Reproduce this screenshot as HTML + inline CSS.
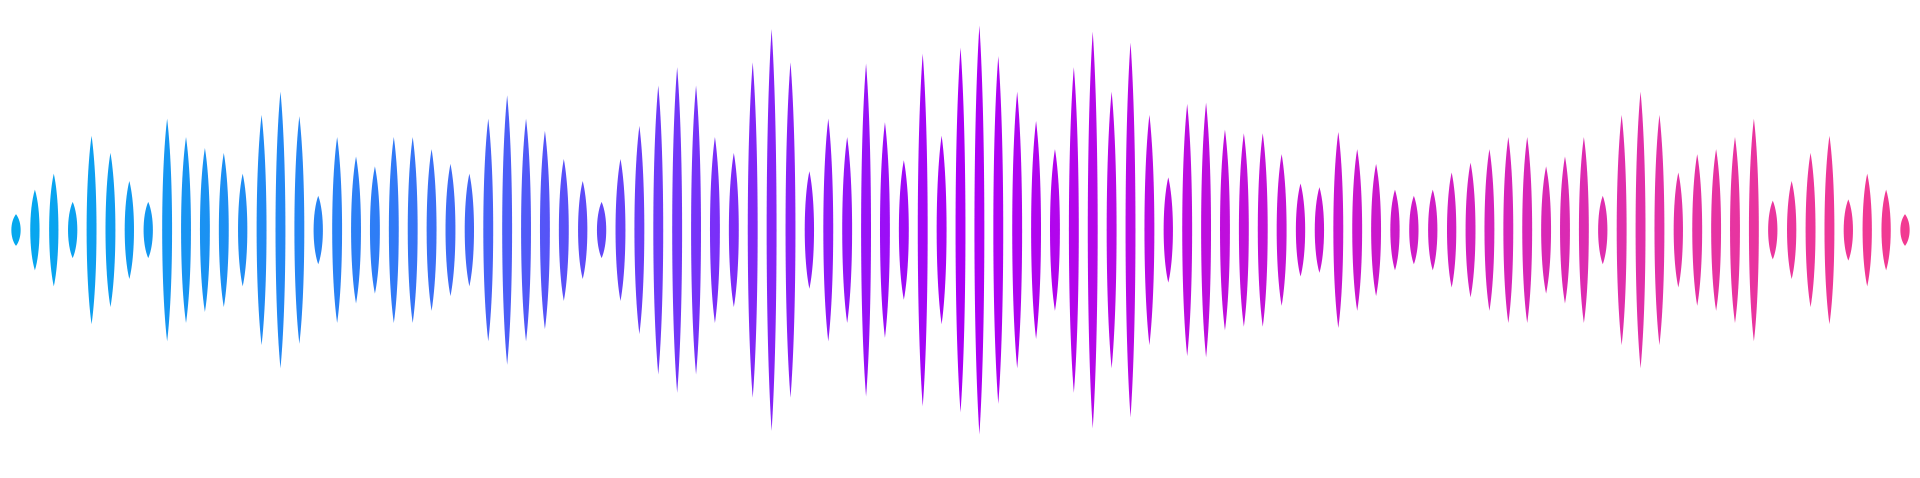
<!DOCTYPE html>
<html>
<head>
<meta charset="utf-8">
<style>
  html,body{margin:0;padding:0;background:#ffffff;}
  svg{display:block;}
</style>
</head>
<body>
<svg id="wave" width="1920" height="478" viewBox="0 0 1920 478" xmlns="http://www.w3.org/2000/svg">
  <defs>
    <linearGradient id="grad" gradientUnits="userSpaceOnUse" x1="0" y1="0" x2="1920" y2="0">
      <stop offset="0" stop-color="#03aaee"/>
      <stop offset="0.2" stop-color="#2f7cf6"/>
      <stop offset="0.33" stop-color="#6a3ff8"/>
      <stop offset="0.5" stop-color="#aa00f6"/>
      <stop offset="0.7" stop-color="#c815d0"/>
      <stop offset="0.85" stop-color="#e030aa"/>
      <stop offset="1" stop-color="#f33a90"/>
    </linearGradient>
  </defs>
  <g id="bars"></g>
</svg>
<script>
const amplitudes = [13,33,46,23,77,63,40,23,91,76,67,63,46,94,113,93,28,76,60,52,76,76,66,54,46,91,110,91,81,58,40,23,58,85,118,133,118,76,63,137,164,137,48,91,76,136,88,57,144,77,149,167,142,113,89,66,133,162,113,153,94,43,103,104,82,79,79,62,38,35,80,66,54,33,28,33,47,55,66,76,76,52,60,76,28,94,113,94,47,62,66,76,91,24,40,63,77,25,46,33,13];

const X0 = 16, X1 = 1905, CY = 230, YSCALE = 1.2245;
function xPos(i){ return X0 + (X1 - X0) * i / (amplitudes.length - 1); }
function halfH(v){ return v * YSCALE; }

const g = document.getElementById('bars');
const NS = 'http://www.w3.org/2000/svg';
amplitudes.forEach(function(v, i){
  const x = xPos(i), h = halfH(v);
  const a = h > 60 ? 6.6 : 6.2;
  const d = 'M' + x + ',' + (CY - h) +
    ' C' + (x + a) + ',' + (CY - h * 0.5) + ' ' + (x + a) + ',' + (CY + h * 0.5) + ' ' + x + ',' + (CY + h) +
    ' C' + (x - a) + ',' + (CY + h * 0.5) + ' ' + (x - a) + ',' + (CY - h * 0.5) + ' ' + x + ',' + (CY - h) + 'Z';
  const p = document.createElementNS(NS, 'path');
  p.setAttribute('d', d);
  p.setAttribute('fill', 'url(#grad)');
  
  
  g.appendChild(p);
});
</script>
</body>
</html>
